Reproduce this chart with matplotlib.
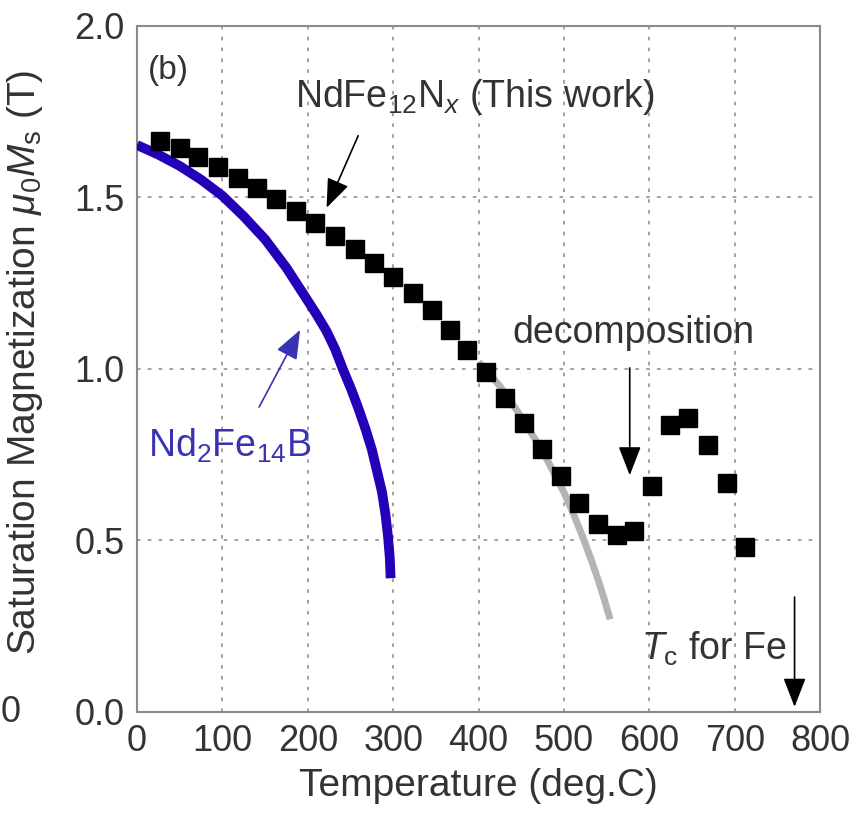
import matplotlib
matplotlib.use("Agg")
import matplotlib.pyplot as plt
import numpy as np

# ─── Dados ────────────────────────────────────────────────────────────────────
# NdFe12Nx (este trabalho): temperatura (°C) e mu0*Ms (T)
T_ndfe12n = [27, 50, 72, 95, 118, 140, 163, 186, 209, 232, 255, 278, 300, 323,
             345, 367, 387, 409, 431, 453, 474, 496, 518, 540, 562, 582, 603,
             624, 645, 669, 691, 712]
M_ndfe12n = [1.665, 1.643, 1.617, 1.588, 1.558, 1.527, 1.495, 1.462, 1.425,
             1.388, 1.350, 1.310, 1.268, 1.222, 1.172, 1.115, 1.055, 0.990,
             0.915, 0.842, 0.768, 0.688, 0.610, 0.548, 0.516, 0.528, 0.659,
             0.838, 0.856, 0.778, 0.668, 0.481]

# ajuste (curva cinza)
T_fit = [400, 412, 425, 437, 450, 462, 475, 487, 500, 511, 522, 531, 540,
         547, 554]
M_fit = [1.02, 0.988, 0.95, 0.908, 0.86, 0.812, 0.76, 0.703, 0.64, 0.578,
         0.51, 0.45, 0.385, 0.33, 0.27]

# Nd2Fe14B (curva azul)
T_nd2 = [0, 25, 50, 75, 100, 125, 150, 175, 195, 210, 222, 232, 241, 251,
         260, 268, 275, 281, 287, 291, 294, 296, 297]
M_nd2 = [1.653, 1.625, 1.592, 1.552, 1.505, 1.445, 1.378, 1.295, 1.218,
         1.160, 1.110, 1.058, 1.000, 0.940, 0.880, 0.822, 0.765, 0.703,
         0.640, 0.575, 0.510, 0.450, 0.390]

X_TICKS = [0, 100, 200, 300, 400, 500, 600, 700, 800]
Y_TICKS = [0.0, 0.5, 1.0, 1.5, 2.0]

# ─── Estilo ───────────────────────────────────────────────────────────────────
plt.rcParams.update({
    "font.family": ["Liberation Sans", "DejaVu Sans"],
    "mathtext.fontset": "custom",
    "mathtext.rm": "Liberation Sans",
    "mathtext.it": "Liberation Sans:italic",
    "mathtext.bf": "Liberation Sans:bold",
    "axes.edgecolor": "#8a8a8a",
    "axes.linewidth": 1.5,
})
TXT = "#333333"
BLUE = "#2400b8"
BLUE_TXT = "#3a32b4"
GRAY = "#b4b4b4"

fig = plt.figure(figsize=(8.67, 8.15), dpi=100)
ax = fig.add_axes([0.158, 0.1264, 0.788, 0.8417])

ax.set_xlim(0, 800)
ax.set_ylim(0, 2.0)
ax.set_xticks(X_TICKS)
ax.set_yticks(Y_TICKS)
ax.set_xticklabels([str(v) for v in X_TICKS])
ax.set_yticklabels([f"{v:.1f}" for v in Y_TICKS])
ax.tick_params(direction="in", length=0, labelsize=26, colors=TXT, pad=9)
ax.grid(True, color="#9a9a9a", linestyle=(0, (2, 4)), linewidth=1.3)
ax.set_axisbelow(True)

# curvas
ax.plot(T_fit, M_fit, color=GRAY, lw=5, solid_capstyle="butt", zorder=2)
ax.plot(T_nd2, M_nd2, color=BLUE, lw=7, solid_capstyle="butt",
        solid_joinstyle="round", zorder=3)
ax.plot(T_ndfe12n, M_ndfe12n, ls="none", marker="s", ms=13, color="black",
        zorder=4)

# rótulos e setas
seta = dict(arrowstyle="-|>,head_length=1.8,head_width=0.7", lw=1.2,
            color="black", shrinkA=0, shrinkB=0)

ax.text(13, 1.87, "(b)", fontsize=24, color=TXT, va="center", ha="left")

ax.text(185, 1.764, r"NdFe$_{\mathrm{12}}$N$_{x}$ (This work)", fontsize=27,
        color=TXT, ha="left", va="baseline")
ax.annotate("", xy=(222, 1.47), xytext=(259, 1.68), arrowprops=seta)

ax.text(13, 0.743, r"Nd$_{\mathrm{2}}$Fe$_{\mathrm{14}}$B", fontsize=27,
        color=BLUE_TXT, ha="left", va="baseline")
ax.annotate("", xy=(191, 1.114), xytext=(143, 0.889),
            arrowprops=dict(seta, color=BLUE_TXT))

ax.text(439, 1.076, "decomposition", fontsize=27, color=TXT, ha="left",
        va="baseline")
ax.annotate("", xy=(577, 0.69), xytext=(577, 1.003), arrowprops=seta)

ax.text(590, 0.152, r"$T_{\mathrm{c}}$ for Fe", fontsize=27, color=TXT,
        ha="left", va="baseline")
ax.annotate("", xy=(770, 0.015), xytext=(770, 0.335), arrowprops=seta)

ax.set_xlabel("Temperature (deg.C)", fontsize=28, color=TXT, labelpad=6)
ax.set_ylabel(r"Saturation Magnetization $\mu_{\mathrm{0}}M_{\mathrm{s}}$ (T)",
              fontsize=28, color=TXT)
ax.yaxis.set_label_coords(-0.135, 0.51)

# rótulo do painel vizinho (cortado à esquerda)
fig.text(0.001, 1 - 712 / 815, "0", fontsize=26, color=TXT, ha="left",
         va="center")

fig.savefig("out.png", dpi=100)
